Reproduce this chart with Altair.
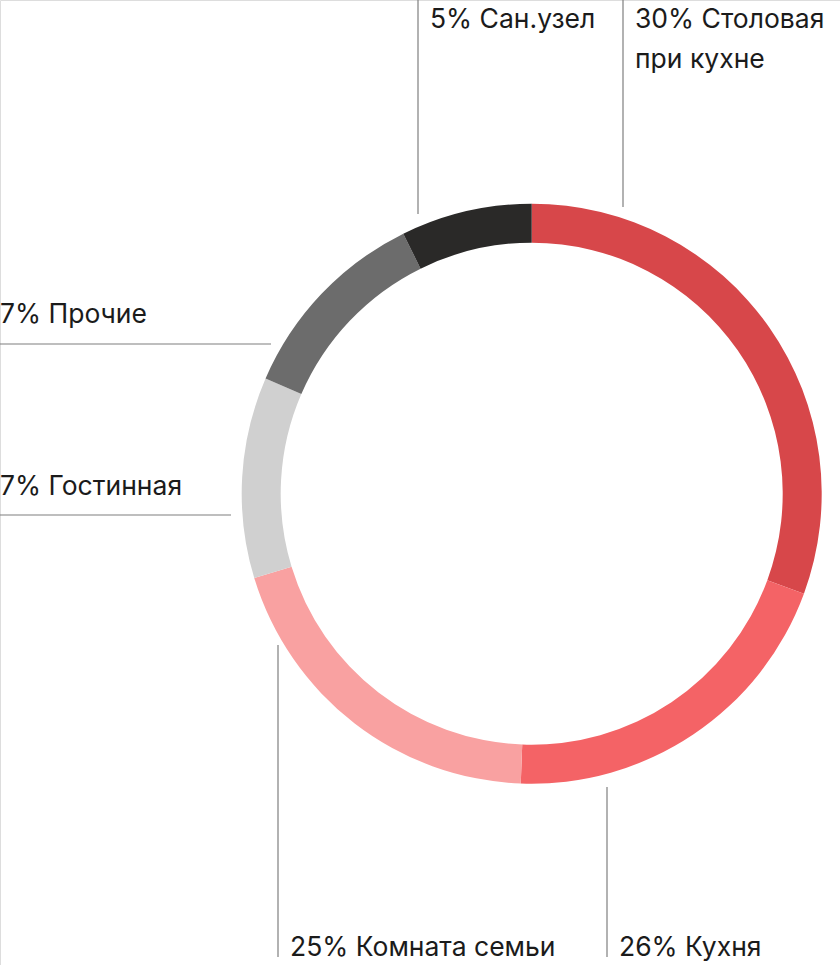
import altair as alt
import pandas as pd

# Ring segments (clockwise from 12 o'clock), sizes as drawn in the picture
categories = ["Столовая при кухне", "Кухня", "Комната семьи", "Гостинная", "Прочие", "Сан.узел"]
shares = [30.6, 20.0, 19.7, 11.2, 11.2, 7.3]
labels = ["30% Столовая\nпри кухне", "26% Кухня", "25% Комната семьи", "7% Гостинная", "7% Прочие", "5% Сан.узел"]
colors = ["#D7474A", "#F46366", "#F9A1A1", "#D0D0D0", "#6C6C6C", "#2A2928"]

# Annotation layout (pixels)
label_x = [635, 619, 290, 0, 0, 430]
label_y = [28, 956, 956, 495, 323, 28]
line_x1 = [623, 607, 278, 0, 0, 418]
line_x2 = [623, 607, 278, 231, 271, 418]
line_y1 = [0, 787, 645, 515, 344, 0]
line_y2 = [207, 957, 957, 515, 344, 214]

W, H = 840, 965
CX, CY = 531.7, 493.7

ring = pd.DataFrame({"cat": categories, "share": shares, "order": list(range(len(categories)))})
ann = pd.DataFrame({
    "label": labels, "lx": label_x, "ly": label_y,
    "x1": line_x1, "x2": line_x2, "y1": line_y1, "y2": line_y2,
})

arc = alt.Chart(ring).mark_arc(outerRadius=290, innerRadius=251).encode(
    theta=alt.Theta("share:Q", stack=True),
    order=alt.Order("order:Q"),
    color=alt.Color("cat:N", scale=alt.Scale(domain=categories, range=colors), legend=None),
    x=alt.value(CX),
    y=alt.value(CY),
)

rules = alt.Chart(ann).mark_rule(color="#7f7f7f", strokeWidth=1.2).encode(
    x=alt.X("x1:Q", scale=None),
    x2="x2:Q",
    y=alt.Y("y1:Q", scale=None),
    y2="y2:Q",
)

texts = alt.Chart(ann).mark_text(
    align="left", baseline="alphabetic", font="Inter", fontSize=26.5,
    color="#1b1b1b", lineBreak="\n", lineHeight=40,
).encode(
    x=alt.X("lx:Q", scale=None),
    y=alt.Y("ly:Q", scale=None),
    text="label:N",
)

chart = alt.layer(arc, rules, texts).properties(
    width=W, height=H, padding=0, autosize=alt.AutoSizeParams(type="none"),
).configure_view(stroke="transparent", strokeWidth=0).configure(background="white")

chart.save("out.html", embed_options={"renderer": "svg", "actions": False})
